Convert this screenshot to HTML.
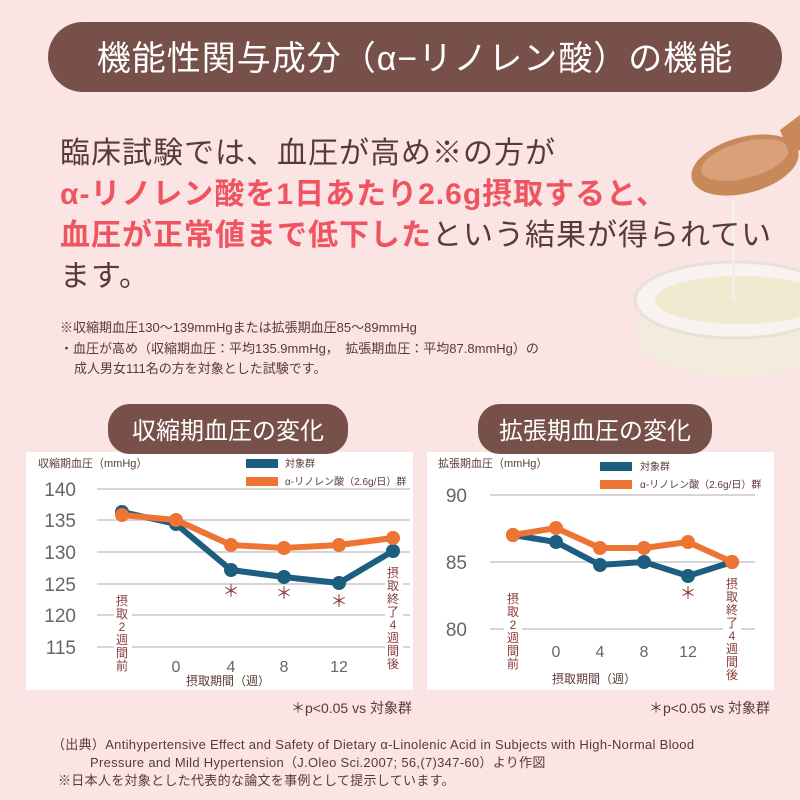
<!DOCTYPE html>
<html><head><meta charset="utf-8"><style>
html,body{margin:0;padding:0;background:#fbe4e4;}
svg{display:block}
text{font-family:"Liberation Sans","Noto Sans CJK JP",sans-serif;}
</style></head><body>
<svg width="800" height="800" viewBox="0 0 800 800" xmlns="http://www.w3.org/2000/svg">
<rect width="800" height="800" fill="#fbe4e4"/>
<!-- bowl & spoon -->
<ellipse cx="735" cy="335" rx="100" ry="42" fill="#f3ecdc"/>
<ellipse cx="735" cy="300" rx="100" ry="38" fill="#f8f3f0" stroke="#e9e1d8" stroke-width="3"/>
<ellipse cx="740" cy="300" rx="85" ry="24" fill="#f1e9d0"/>
<rect x="732" y="200" width="3" height="100" fill="#f4efe8"/>
<ellipse cx="745" cy="165" rx="55" ry="28" fill="#c9885a" transform="rotate(-15 745 165)"/>
<ellipse cx="745" cy="160" rx="45" ry="18" fill="#d9a07a" transform="rotate(-15 745 160)"/>
<polygon points="780,130 800,115 800,150 790,155" fill="#c9885a"/>
<!-- title -->
<rect x="48" y="22" width="734" height="70" rx="35" fill="#77504a"/>
<text x="415" y="70" font-size="34" fill="#fff" text-anchor="middle" letter-spacing="1">機能性関与成分（α−リノレン酸）の機能</text>
<!-- body text -->
<g font-size="30" font-weight="bold" letter-spacing="1">
<text x="60" y="163" fill="#5a3a36" font-weight="normal">臨床試験では、血圧が高め※の方が</text>
<text x="60" y="204" fill="#ef5560">α-リノレン酸を1日あたり2.6g摂取すると、</text>
<text x="60" y="245" fill="#ef5560">血圧が正常値まで低下した<tspan fill="#5a3a36" font-weight="normal">という結果が得られてい</tspan></text>
<text x="60" y="286" fill="#5a3a36" font-weight="normal">ます。</text>
</g>
<g font-size="13" fill="#5a3a36">
<text x="60" y="332">※収縮期血圧130〜139mmHgまたは拡張期血圧85〜89mmHg</text>
<text x="60" y="353">・血圧が高め（収縮期血圧：平均135.9mmHg，　拡張期血圧：平均87.8mmHg）の</text>
<text x="74" y="373">成人男女111名の方を対象とした試験です。</text>
</g>
<!-- left chart -->
<rect x="26" y="452" width="387" height="238" fill="#fff"/>
<rect x="108" y="404" width="240" height="50" rx="22" fill="#77504a"/>
<text x="228" y="439" font-size="24" fill="#fff" text-anchor="middle">収縮期血圧の変化</text>
<g stroke="#d6d6d6" stroke-width="2">
<line x1="97" y1="489" x2="410" y2="489"/><line x1="97" y1="520" x2="410" y2="520"/>
<line x1="97" y1="552" x2="410" y2="552"/><line x1="97" y1="584" x2="410" y2="584"/>
<line x1="97" y1="615" x2="410" y2="615"/><line x1="97" y1="647" x2="410" y2="647"/>
</g>
<g font-size="19" fill="#666" text-anchor="end">
<text x="76" y="496">140</text><text x="76" y="527">135</text><text x="76" y="559">130</text>
<text x="76" y="591">125</text><text x="76" y="622">120</text><text x="76" y="654">115</text>
</g>
<text x="38" y="467" font-size="11" fill="#5a3a36">収縮期血圧（mmHg）</text>
<rect x="246" y="459" width="32" height="9" fill="#1d5d7f"/>
<text x="285" y="467" font-size="10" fill="#5a3a36">対象群</text>
<rect x="246" y="477" width="32" height="9" fill="#ee7434"/>
<text x="285" y="485" font-size="10" fill="#5a3a36">α-リノレン酸（2.6g/日）群</text>
<polyline points="122,512 176,524 231,570 284,577 339,583 393,551" fill="none" stroke="#1d5d7f" stroke-width="6"/>
<g fill="#1d5d7f"><circle cx="122" cy="512" r="7"/><circle cx="176" cy="524" r="7"/><circle cx="231" cy="570" r="7"/><circle cx="284" cy="577" r="7"/><circle cx="339" cy="583" r="7"/><circle cx="393" cy="551" r="7"/></g>
<polyline points="122,515 176,520 231,545 284,548 339,545 393,538" fill="none" stroke="#ee7434" stroke-width="6"/>
<g fill="#ee7434"><circle cx="122" cy="515" r="7"/><circle cx="176" cy="520" r="7"/><circle cx="231" cy="545" r="7"/><circle cx="284" cy="548" r="7"/><circle cx="339" cy="545" r="7"/><circle cx="393" cy="538" r="7"/></g>
<g font-size="17" fill="#8a3a3a" text-anchor="middle"><text x="231" y="597">＊</text><text x="284" y="599">＊</text><text x="339" y="607">＊</text></g>
<g font-size="16" fill="#666" text-anchor="middle"><text x="176" y="672">0</text><text x="231" y="672">4</text><text x="284" y="672">8</text><text x="339" y="672">12</text></g>
<text x="228" y="685" font-size="12" fill="#5a3a36" text-anchor="middle">摂取期間（週）</text>
<g font-size="12" fill="#8a3a3a" text-anchor="middle">
<rect x="114" y="595" width="18" height="70" fill="#fff"/>
<text x="122" y="605">摂</text><text x="122" y="618">取</text><text x="122" y="631">2</text><text x="122" y="644">週</text><text x="122" y="657">間</text><text x="122" y="670">前</text>
<rect x="385" y="565" width="18" height="100" fill="#fff"/>
<text x="393" y="577">摂</text><text x="393" y="590">取</text><text x="393" y="603">終</text><text x="393" y="616">了</text><text x="393" y="629">4</text><text x="393" y="642">週</text><text x="393" y="655">間</text><text x="393" y="668">後</text>
</g>
<!-- right chart -->
<rect x="427" y="452" width="347" height="238" fill="#fff"/>
<rect x="478" y="404" width="234" height="50" rx="22" fill="#77504a"/>
<text x="595" y="439" font-size="24" fill="#fff" text-anchor="middle">拡張期血圧の変化</text>
<g stroke="#d6d6d6" stroke-width="2">
<line x1="490" y1="495" x2="755" y2="495"/><line x1="490" y1="562" x2="755" y2="562"/><line x1="490" y1="629" x2="755" y2="629"/>
</g>
<g font-size="19" fill="#666" text-anchor="end"><text x="467" y="502">90</text><text x="467" y="569">85</text><text x="467" y="636">80</text></g>
<text x="438" y="467" font-size="11" fill="#5a3a36">拡張期血圧（mmHg）</text>
<rect x="600" y="462" width="32" height="9" fill="#1d5d7f"/>
<text x="640" y="470" font-size="10" fill="#5a3a36">対象群</text>
<rect x="600" y="480" width="32" height="9" fill="#ee7434"/>
<text x="640" y="488" font-size="10" fill="#5a3a36">α-リノレン酸（2.6g/日）群</text>
<polyline points="513,535 556,542 600,565 644,562 688,576 732,562" fill="none" stroke="#1d5d7f" stroke-width="6"/>
<g fill="#1d5d7f"><circle cx="513" cy="535" r="7"/><circle cx="556" cy="542" r="7"/><circle cx="600" cy="565" r="7"/><circle cx="644" cy="562" r="7"/><circle cx="688" cy="576" r="7"/><circle cx="732" cy="562" r="7"/></g>
<polyline points="513,535 556,528 600,548 644,548 688,542 732,562" fill="none" stroke="#ee7434" stroke-width="6"/>
<g fill="#ee7434"><circle cx="513" cy="535" r="7"/><circle cx="556" cy="528" r="7"/><circle cx="600" cy="548" r="7"/><circle cx="644" cy="548" r="7"/><circle cx="688" cy="542" r="7"/><circle cx="732" cy="562" r="7"/></g>
<text x="688" y="599" font-size="17" fill="#8a3a3a" text-anchor="middle">＊</text>
<g font-size="16" fill="#666" text-anchor="middle"><text x="556" y="657">0</text><text x="600" y="657">4</text><text x="644" y="657">8</text><text x="688" y="657">12</text></g>
<text x="594" y="683" font-size="12" fill="#5a3a36" text-anchor="middle">摂取期間（週）</text>
<g font-size="12" fill="#8a3a3a" text-anchor="middle">
<rect x="504" y="592" width="18" height="78" fill="#fff"/>
<text x="513" y="603">摂</text><text x="513" y="616">取</text><text x="513" y="629">2</text><text x="513" y="642">週</text><text x="513" y="655">間</text><text x="513" y="668">前</text>
<rect x="723" y="575" width="18" height="100" fill="#fff"/>
<text x="732" y="588">摂</text><text x="732" y="601">取</text><text x="732" y="614">終</text><text x="732" y="627">了</text><text x="732" y="640">4</text><text x="732" y="653">週</text><text x="732" y="666">間</text><text x="732" y="679">後</text>
</g>
<!-- footnotes -->
<text x="412" y="713" font-size="14" fill="#5a3a36" text-anchor="end">＊p&lt;0.05 vs 対象群</text>
<text x="770" y="713" font-size="14" fill="#5a3a36" text-anchor="end">＊p&lt;0.05 vs 対象群</text>
<g font-size="13" fill="#5a3a36" letter-spacing="0.3">
<text x="52" y="749">（出典）Antihypertensive Effect and Safety of Dietary α-Linolenic Acid in Subjects with High-Normal Blood</text>
<text x="90" y="767">Pressure and Mild Hypertension（J.Oleo Sci.2007; 56,(7)347-60）より作図</text>
<text x="58" y="785">※日本人を対象とした代表的な論文を事例として提示しています。</text>
</g>
</svg>
</body></html>
